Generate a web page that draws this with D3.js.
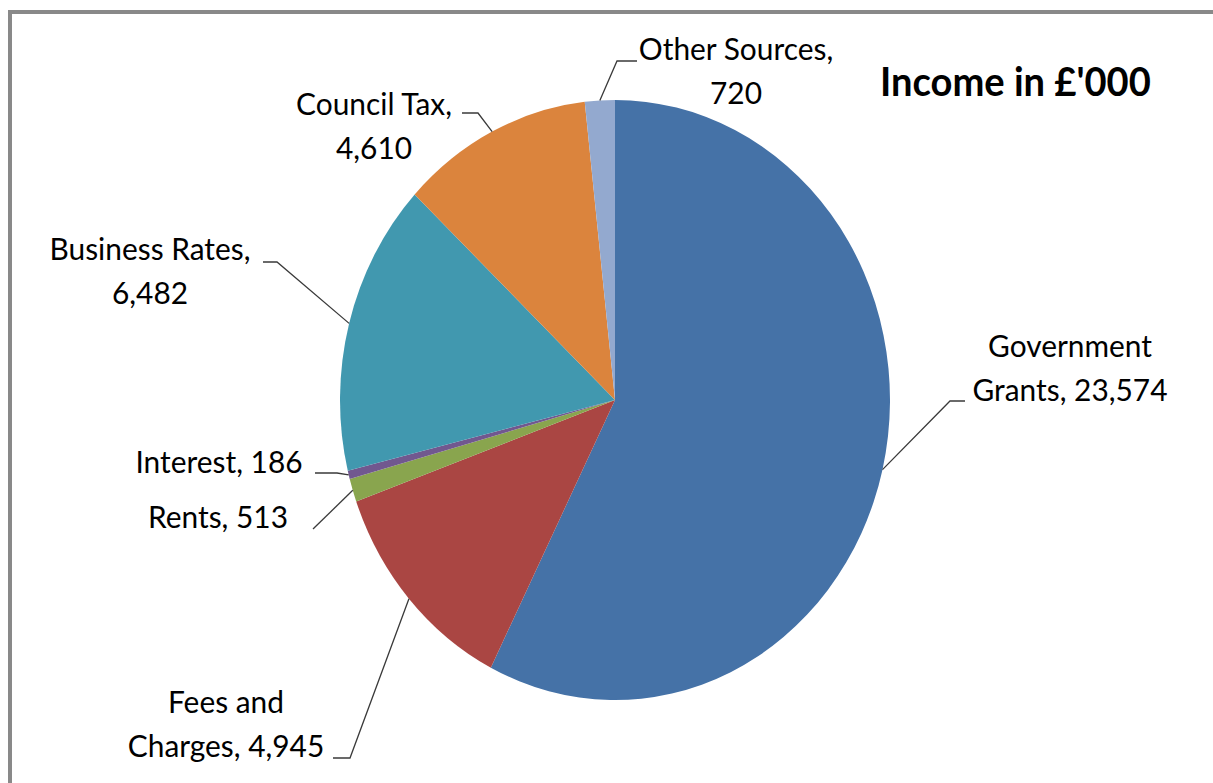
<!DOCTYPE html>
<html>
<head>
<meta charset="utf-8">
<script src="https://cdn.jsdelivr.net/npm/d3@7"></script>
<style>
  html, body { margin: 0; padding: 0; background: #fff; }
  svg { display: block; }
</style>
</head>
<body>
<script>
// ---- data ----
const categories = ["Government Grants", "Fees and Charges", "Rents", "Interest", "Business Rates", "Council Tax", "Other Sources"];
const values = [23574, 4945, 513, 186, 6482, 4610, 720];
const colors = ["#4572A7", "#AA4643", "#89A54E", "#71588F", "#4198AF", "#DB843D", "#93A9CF"];
const title = "Income in £'000";
// words after which the label wraps (0 = single line)
const breakAfter = [1, 2, 0, 0, 2, 2, 2];

// ---- layout ----
const W = 1213, H = 783;
const cx = 615, cy = 400, rx = 275, ry = 300;
const labelPos = [[1070, 357], [226, 713], [218, 528], [219, 473], [150, 260], [374, 115], [736, 60]];
const leaderStart = [[965, 401, 950], [333, 758, 350], [313, 529, 313], [315, 473, 337], [263, 262, 277], [462, 113, 478], [637, 61, 617]];
const lineGap = 44;
const fontFamily = "Lato, 'Open Sans', sans-serif";
const sx = 1.03, sy = 1.09;

const svg = d3.select("body").append("svg").attr("width", W).attr("height", H);

svg.append("rect").attr("x", 10).attr("y", 12).attr("width", 1400).attr("height", 1000)
  .attr("fill", "#fff").attr("stroke", "#898989").attr("stroke-width", 4);

const fmt = d3.format(",");
const data = categories.map((c, i) => ({ cat: c, value: values[i], color: colors[i], i }));
const pie = d3.pie().sort(null).value(d => d.value).startAngle(0).endAngle(2 * Math.PI);
const arcs = pie(data);
const arc = d3.arc().innerRadius(0).outerRadius(rx);

const gPie = svg.append("g").attr("transform", `translate(${cx},${cy}) scale(1,${ry / rx})`);
gPie.selectAll("path").data(arcs).join("path")
  .attr("d", arc).attr("fill", d => d.data.color);

// leader lines
arcs.forEach((a, i) => {
  const m = (a.startAngle + a.endAngle) / 2;
  const ex = cx + rx * Math.sin(m), ey = cy - ry * Math.cos(m);
  const [x0, y0, x1] = leaderStart[i];
  svg.append("path")
    .attr("d", d3.line()([[x0, y0], [x1, y0], [ex, ey]]))
    .attr("fill", "none").attr("stroke", "#3a3a3a").attr("stroke-width", 1.3);
});

// labels
arcs.forEach((a, i) => {
  const words = `${a.data.cat}, ${fmt(a.data.value)}`.split(" ");
  const b = breakAfter[i];
  const lines = b ? [words.slice(0, b).join(" "), words.slice(b).join(" ")] : [words.join(" ")];
  lines.forEach((ln, k) => {
    svg.append("text")
      .attr("transform", `translate(${labelPos[i][0]},${labelPos[i][1] + k * lineGap}) scale(${sx},${sy})`)
      .attr("text-anchor", "middle")
      .attr("font-family", fontFamily).attr("font-size", 29)
      .attr("fill", "#000").text(ln);
  });
});

svg.append("text")
  .attr("transform", `translate(880,96) scale(${sx},${sy})`)
  .attr("font-family", fontFamily).attr("font-size", 37).attr("font-weight", "bold")
  .attr("fill", "#000").text(title);
</script>
</body>
</html>
